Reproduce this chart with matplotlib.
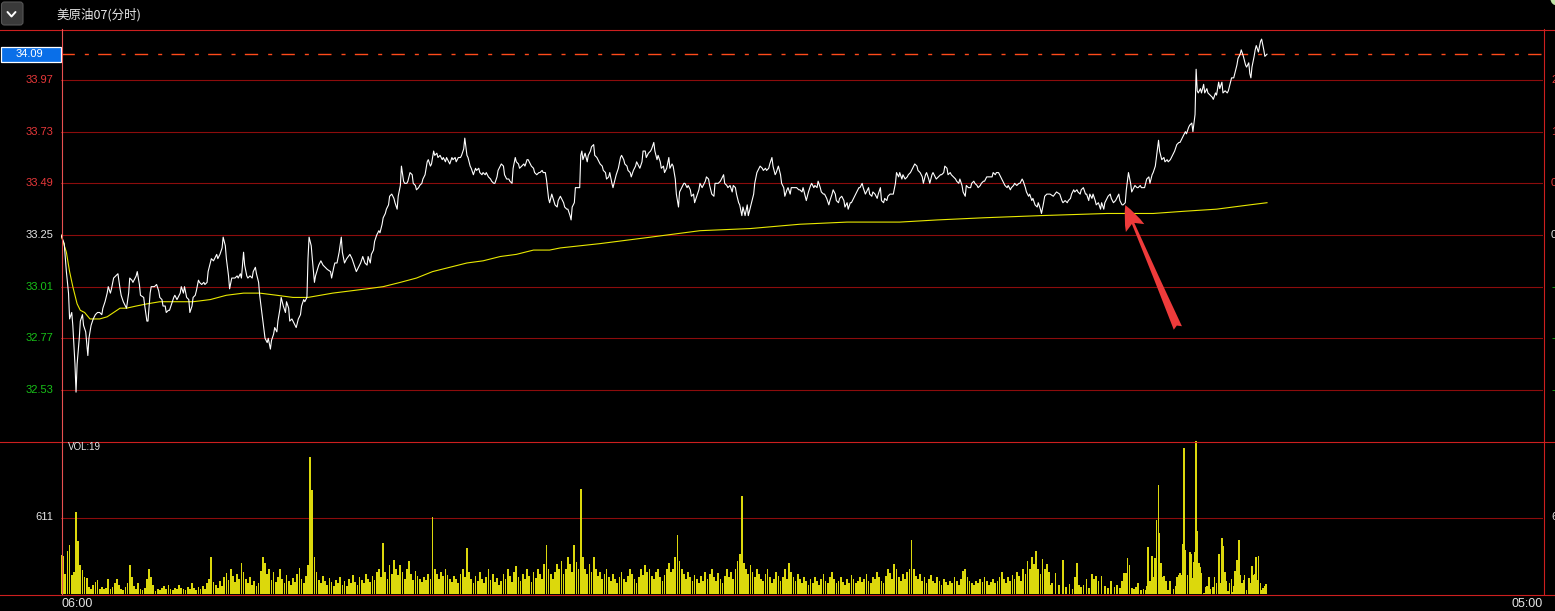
import matplotlib
matplotlib.use("Agg")
import matplotlib.pyplot as plt
from matplotlib.patches import FancyBboxPatch, Rectangle, Circle
from matplotlib.transforms import blended_transform_factory, offset_copy

plt.rcParams['font.family'] = ['Noto Sans CJK SC', 'DejaVu Sans']
plt.rcParams['lines.scale_dashes'] = False

# ---- données (minutes depuis 06:00) ----
title = "美原油07(分时)"
prev_close = 33.25
last_price = 34.09
grid_prices = [33.97, 33.73, 33.49, 33.25, 33.01, 32.77, 32.53]
grid_labels = ["33.97", "33.73", "33.49", "33.25", "33.01", "32.77", "32.53"]
pct_labels = ["2.17%", "1.44%", "0.72%", "0.00%", "-0.72%", "-1.44%", "-2.17%"]
vol_ref = 611
vol_title = "VOL:19"
time_labels = ["06:00", "05:00"]
total_minutes = 1380

price_t = [
    0, 3, 5, 7, 8, 10, 11, 13, 14, 15,
    17, 18, 20, 21, 23, 25, 26, 28, 30, 32,
    34, 36, 38, 39, 41, 43, 44, 46, 47, 49,
    51, 53, 55, 56, 58, 60, 61, 63, 64, 66,
    67, 70, 71, 73, 74, 77, 78, 80, 81, 83,
    84, 87, 89, 91, 92, 94, 95, 97, 98, 100,
    101, 103, 105, 106, 108, 109, 111, 112, 114, 115,
    117, 119, 120, 122, 123, 125, 126, 128, 129, 131,
    133, 134, 136, 137, 139, 140, 142, 143, 145, 146,
    148, 150, 151, 153, 154, 156, 157, 159, 160, 162,
    164, 165, 167, 168, 170, 171, 173, 174, 176, 178,
    179, 181, 182, 184, 185, 187, 188, 190, 192, 193,
    195, 196, 198, 199, 201, 202, 204, 205, 207, 209,
    210, 212, 213, 215, 216, 218, 219, 221, 223, 224,
    226, 227, 229,
    230, 231, 233, 234, 236, 237, 240, 242, 244, 246,
    248, 251, 252, 254, 255, 257, 259, 261, 262, 264,
    266, 269, 271, 273, 275, 277, 279, 281, 283, 285,
    286, 288, 289, 291, 292, 294, 296, 297, 299, 300,
    302, 303, 305, 306, 308, 310, 311, 313, 314, 316,
    317, 319, 320, 322, 323, 325, 327, 328, 330, 331,
    333, 334, 336, 337, 339, 341, 342, 344, 345, 347,
    348, 350, 351, 353, 355, 356, 358, 359, 361, 362,
    364, 365, 367, 368, 370, 372, 373, 375, 376, 378,
    379, 381, 382, 384, 386, 387, 389, 390, 392, 393,
    395, 396, 398, 400, 401, 403, 404, 406, 407, 409,
    410, 412, 413, 415, 417, 418, 420, 421, 423, 424,
    426, 427, 429, 431, 432, 434, 435, 437, 438, 440,
    441, 443, 445, 446, 448, 449, 451, 452, 454, 455,
    457, 460, 462, 463, 465, 466, 468, 469, 471, 472,
    474, 475, 476, 478, 479, 481, 483, 484, 485, 486,
    488, 490, 491, 493, 494, 496, 497, 499, 500, 502,
    504, 505, 507, 508, 510, 511, 513, 514, 516, 517,
    519, 521, 522, 524, 525, 527, 528, 530, 531, 533,
    535, 536, 538, 539, 541, 542, 544, 545, 547, 549,
    550, 552, 553, 555, 556, 558, 559, 561, 562, 564,
    566, 567, 569, 570, 572, 573, 575, 576, 578, 580,
    581, 583, 584, 586, 587, 589, 590, 592, 594, 595,
    597, 598, 600, 601, 603, 604, 606, 608, 609, 611,
    612, 614, 615, 617, 618, 620, 621, 623, 625, 626,
    628, 629, 631, 632, 634, 635, 637, 639, 640, 642,
    643, 645, 646, 648, 649, 651, 653, 654, 656, 657,
    659, 660, 662, 663, 665, 666, 668, 670, 671, 673,
    674, 676, 677, 679, 680, 682, 684, 685, 687,
    688, 690, 691, 693, 694, 696, 698, 699, 701, 702,
    704, 705, 707, 708, 710, 711, 713, 715, 716, 718,
    719, 721, 722, 724, 725, 727, 729, 730, 732, 733,
    735, 736, 738, 739, 741, 743, 744, 746, 747, 749,
    750, 752, 753, 755, 756, 758, 760, 761, 763, 764,
    766, 767, 769, 770, 772, 774, 775, 777, 778, 780,
    781, 783, 784, 786, 788, 789, 791, 792, 794, 795,
    797, 798, 800, 802, 803, 805, 806, 808, 809, 811,
    812, 814, 815, 817, 819, 820, 822, 823, 825, 826,
    828, 829, 831, 833, 834, 836, 837, 839, 840, 842,
    843, 845, 847, 848, 850, 851, 853, 854, 856, 857,
    859, 860, 862, 864, 865, 867, 868, 870, 871, 873,
    874, 876, 878, 879, 881, 882, 884, 885, 887, 888,
    890, 892, 893, 895, 896, 898, 899, 901, 902, 904,
    905, 907, 909, 910, 912, 913, 915, 916, 918, 919,
    921, 924, 927, 930, 932, 933, 935, 937, 938, 940,
    941, 943, 944, 946, 947, 949, 950, 952, 954, 955,
    957, 958, 960, 961, 963, 964, 966, 968, 969, 971,
    972, 974, 975, 977, 978, 980, 982, 983, 985, 986,
    988, 989, 991, 992, 994, 996, 997, 999, 1000, 1002,
    1003, 1005, 1006, 1008, 1009, 1011, 1013, 1014, 1016, 1017,
    1019, 1020, 1022, 1023, 1025, 1027, 1028, 1030, 1031, 1033,
    1034, 1036, 1037, 1039, 1041, 1042, 1044, 1045, 1047, 1048,
    1050, 1051, 1053, 1054, 1056, 1057, 1058, 1059, 1061, 1062,
    1064, 1065, 1067, 1068, 1070, 1072, 1073, 1075, 1076, 1078,
    1079, 1081, 1082, 1084, 1086, 1087, 1089, 1090, 1092, 1093,
    1095, 1096, 1098, 1099, 1101, 1103, 1104, 1106, 1107, 1108,
    1109, 1111, 1112, 1113, 1115, 1117, 1118, 1120, 1121, 1123,
]
price_v = [
    33.25, 33.21, 33.08, 32.98, 32.86, 32.89, 32.83, 32.65, 32.52, 32.65,
    32.77, 32.85, 32.88, 32.83, 32.80, 32.69, 32.77, 32.83, 32.86, 32.88,
    32.89, 32.89, 32.88, 32.91, 32.94, 32.98, 33.01, 32.98, 33.00, 33.05,
    33.06, 33.07, 33.00, 32.97, 32.94, 32.92, 32.91, 32.98, 33.05, 33.04,
    33.03, 33.06, 33.08, 33.02, 32.97, 32.96, 32.92, 32.85, 32.85, 32.98,
    33.01, 33.01, 33.02, 32.99, 32.96, 32.95, 32.92, 32.92, 32.89, 32.90,
    32.90, 32.93, 32.96, 32.97, 32.95, 32.96, 32.98, 33.01, 32.98, 33.01,
    32.96, 32.95, 32.89, 32.92, 32.96, 32.97, 32.99, 33.04, 33.03, 33.02,
    33.03, 33.02, 33.03, 33.08, 33.12, 33.14, 33.13, 33.14, 33.16, 33.14,
    33.16, 33.19, 33.24, 33.20, 33.14, 33.06, 33.00, 33.05, 33.05, 33.05,
    33.06, 33.05, 33.07, 33.05, 33.17, 33.11, 33.06, 33.05, 33.06, 33.05,
    33.08, 33.10, 33.07, 33.03, 32.97, 32.89, 32.85, 32.77, 32.75, 32.77,
    32.72, 32.76, 32.79, 32.82, 32.80, 32.85, 32.91, 32.96, 32.92, 32.89,
    32.94, 32.91, 32.85, 32.86, 32.85, 32.83, 32.82, 32.86, 32.88, 32.92,
    32.95, 32.94, 32.96,
    33.14, 33.24, 33.20, 33.14, 33.03, 33.06, 33.11, 33.13, 33.11, 33.10,
    33.09, 33.08, 33.05, 33.10, 33.12, 33.12, 33.17, 33.24, 33.17, 33.12,
    33.14, 33.16, 33.14, 33.11, 33.08, 33.10, 33.12, 33.15, 33.12, 33.11,
    33.15, 33.12, 33.16, 33.18, 33.22, 33.25, 33.27, 33.26, 33.30, 33.33,
    33.35, 33.37, 33.39, 33.43, 33.44, 33.42, 33.40, 33.37, 33.43, 33.48,
    33.57, 33.50, 33.49, 33.49, 33.50, 33.54, 33.53, 33.49, 33.48, 33.46,
    33.47, 33.48, 33.49, 33.51, 33.53, 33.59, 33.60, 33.57, 33.58, 33.64,
    33.62, 33.63, 33.61, 33.62, 33.60, 33.61, 33.59, 33.61, 33.59, 33.58,
    33.61, 33.60, 33.61, 33.59, 33.61, 33.61, 33.62, 33.65, 33.70, 33.62,
    33.61, 33.57, 33.56, 33.53, 33.56, 33.55, 33.56, 33.54, 33.53, 33.54,
    33.53, 33.54, 33.52, 33.51, 33.50, 33.49, 33.49, 33.52, 33.55, 33.57,
    33.58, 33.57, 33.53, 33.51, 33.51, 33.50, 33.49, 33.56, 33.61, 33.59,
    33.58, 33.56, 33.57, 33.58, 33.57, 33.60, 33.60, 33.58, 33.57, 33.56,
    33.54, 33.53, 33.54, 33.54, 33.55, 33.54, 33.54, 33.51, 33.42, 33.40,
    33.44, 33.39, 33.38, 33.41, 33.43, 33.42, 33.40, 33.38, 33.37, 33.37,
    33.34, 33.32, 33.38, 33.40, 33.47, 33.47, 33.47, 33.62, 33.64, 33.60,
    33.63, 33.59, 33.62, 33.64, 33.66, 33.67, 33.62, 33.61, 33.60, 33.58,
    33.57, 33.55, 33.54, 33.51, 33.52, 33.54, 33.49, 33.47, 33.51, 33.53,
    33.56, 33.61, 33.62, 33.60, 33.58, 33.57, 33.55, 33.54, 33.52, 33.55,
    33.57, 33.59, 33.57, 33.56, 33.59, 33.64, 33.64, 33.61, 33.63, 33.64,
    33.65, 33.68, 33.64, 33.60, 33.62, 33.59, 33.56, 33.57, 33.54, 33.56,
    33.61, 33.56, 33.58, 33.57, 33.51, 33.44, 33.38, 33.45, 33.47, 33.49,
    33.49, 33.47, 33.48, 33.46, 33.43, 33.44, 33.40, 33.43, 33.46, 33.49,
    33.47, 33.48, 33.50, 33.52, 33.51, 33.48, 33.44, 33.43, 33.49, 33.49,
    33.49, 33.50, 33.51, 33.53, 33.49, 33.48, 33.47, 33.48, 33.45, 33.48,
    33.47, 33.44, 33.40, 33.39, 33.34, 33.38, 33.34, 33.39, 33.34, 33.38,
    33.40, 33.44, 33.49, 33.54, 33.55, 33.57, 33.56, 33.55, 33.56, 33.55,
    33.56, 33.58, 33.61, 33.57, 33.53, 33.54, 33.57, 33.53, 33.49, 33.47,
    33.43, 33.46, 33.47, 33.44, 33.47, 33.47, 33.47, 33.47, 33.46,
    33.46, 33.45, 33.47, 33.43, 33.41, 33.45, 33.48, 33.49, 33.47, 33.48,
    33.47, 33.50, 33.47, 33.45, 33.44, 33.44, 33.42, 33.39, 33.41, 33.44,
    33.46, 33.44, 33.41, 33.40, 33.42, 33.43, 33.41, 33.38, 33.40, 33.37,
    33.40, 33.40, 33.42, 33.43, 33.45, 33.47, 33.47, 33.49, 33.47, 33.44,
    33.45, 33.47, 33.44, 33.43, 33.45, 33.44, 33.42, 33.44, 33.47, 33.41,
    33.40, 33.42, 33.41, 33.43, 33.44, 33.44, 33.44, 33.49, 33.54, 33.52,
    33.54, 33.51, 33.53, 33.51, 33.52, 33.53, 33.54, 33.55, 33.57, 33.58,
    33.57, 33.55, 33.54, 33.52, 33.49, 33.53, 33.54, 33.51, 33.49, 33.53,
    33.54, 33.52, 33.51, 33.52, 33.53, 33.53, 33.54, 33.57, 33.56, 33.53,
    33.54, 33.53, 33.52, 33.51, 33.50, 33.49, 33.51, 33.48, 33.45, 33.43,
    33.48, 33.47, 33.47, 33.49, 33.50, 33.49, 33.48, 33.47, 33.48, 33.49,
    33.50, 33.50, 33.52, 33.52, 33.52, 33.52, 33.54, 33.53, 33.54, 33.54,
    33.53, 33.51, 33.49, 33.48, 33.47, 33.48, 33.46, 33.47, 33.48, 33.49,
    33.48, 33.49, 33.49, 33.51, 33.50, 33.47, 33.45, 33.43, 33.44, 33.41,
    33.42, 33.39, 33.38, 33.40, 33.37, 33.35, 33.40, 33.43, 33.44, 33.44,
    33.44, 33.43, 33.45, 33.44, 33.41, 33.40, 33.41, 33.40, 33.41, 33.42,
    33.44, 33.46, 33.45, 33.46, 33.45, 33.44, 33.46, 33.47, 33.44, 33.44,
    33.41, 33.44, 33.42, 33.44, 33.41, 33.39, 33.40, 33.37, 33.40, 33.37,
    33.40, 33.42, 33.43, 33.44, 33.42, 33.40, 33.41, 33.42, 33.44, 33.41,
    33.39, 33.39, 33.40, 33.46, 33.54, 33.49, 33.45, 33.47, 33.48, 33.47,
    33.47, 33.48, 33.47, 33.47, 33.47, 33.51, 33.52, 33.49, 33.53, 33.54,
    33.57, 33.61, 33.69, 33.64, 33.60, 33.61, 33.59, 33.60, 33.59, 33.60,
    33.61, 33.63, 33.64, 33.67, 33.68, 33.68, 33.70, 33.71, 33.73, 33.72,
    33.75, 33.76, 33.77, 33.73, 33.81, 34.02, 33.92, 33.91, 33.93, 33.91,
    33.95, 33.91, 33.93, 33.91, 33.90, 33.89, 33.88, 33.91, 33.90, 33.96,
    33.93, 33.96, 33.91, 33.92, 33.91, 33.92, 33.96, 33.98, 33.98, 34.00,
    34.04, 34.07, 34.09, 34.11, 34.08, 34.04, 34.03, 34.05, 34.00, 33.98,
    34.03, 34.08, 34.11, 34.13, 34.10, 34.15, 34.16, 34.11, 34.08, 34.09,
]

avg_t = [0, 5, 8, 11, 15, 18, 22, 27, 30, 36, 43, 49, 55, 61, 70, 80, 92, 108,
         123, 139, 154, 170, 185, 201, 216, 230, 253, 285, 300, 316, 331, 346,
         362, 378, 393, 409, 424, 440, 455, 465, 502, 549, 595, 642, 688, 732,
         781, 816, 859, 912, 974, 1017, 1045, 1076, 1107, 1123]
avg_v = [33.25, 33.17, 33.08, 33.01, 32.93, 32.90, 32.89, 32.86, 32.86, 32.86,
         32.87, 32.89, 32.91, 32.91, 32.92, 32.93, 32.94, 32.94, 32.94, 32.95,
         32.97, 32.98, 32.98, 32.97, 32.96, 32.96, 32.98, 33.00, 33.01, 33.03,
         33.05, 33.08, 33.10, 33.12, 33.13, 33.15, 33.16, 33.18, 33.18, 33.19,
         33.21, 33.24, 33.27, 33.28, 33.30, 33.31, 33.31, 33.32, 33.33, 33.34,
         33.35, 33.35, 33.36, 33.37, 33.39, 33.40]

# volume : une barre toutes les 2 minutes jusqu'a 920, puis relevé fin
vol_t = list(range(0, 921, 2)) + [
    921, 923, 926, 929, 933, 936, 939, 942, 944, 946,
    948, 950, 952, 955, 957, 960, 962, 964, 966, 969,
    972, 975, 978, 981, 983, 986, 988, 990, 992, 993,
    995, 997, 999, 1001, 1003, 1006, 1008, 1010, 1011, 1012,
    1014, 1016, 1017, 1019, 1020, 1022, 1023, 1024, 1026, 1027,
    1029, 1031, 1033, 1036, 1038, 1039, 1041, 1042, 1044, 1045,
    1046, 1047, 1049, 1051, 1052, 1053, 1055, 1056, 1057, 1058,
    1060, 1061, 1062, 1064, 1066, 1067, 1069, 1070, 1073, 1074,
    1076, 1078, 1080, 1081, 1082, 1084, 1085, 1087, 1088, 1090,
    1091, 1092, 1093, 1095, 1096, 1097, 1098, 1100, 1101, 1102,
    1104, 1106, 1107, 1108, 1109, 1111, 1112, 1113, 1114, 1115,
    1117, 1118, 1119, 1121, 1122]
vol_v = [
    312, 300, 160, 344, 392, 152, 176, 656, 424, 232,
    192, 136, 128, 56, 40, 72, 96, 112, 40, 56,
    40, 48, 120, 40, 56, 88, 120, 72, 40, 32,
    56, 88, 232, 136, 64, 40, 88, 40, 32, 48,
    120, 200, 136, 72, 24, 40, 32, 48, 64, 40,
    72, 40, 32, 48, 40, 72, 48, 40, 32, 56,
    40, 88, 48, 32, 56, 40, 64, 40, 88, 120,
    296, 96, 72, 48, 104, 64, 136, 168, 112, 200,
    144, 96, 160, 120, 248, 176, 120, 88, 136, 72,
    104, 64, 88, 184, 296, 248, 160, 200, 112, 176,
    96, 136, 200, 120, 88, 152, 104, 72, 128, 96,
    160, 208, 120, 88, 144, 232, 1096, 832, 296, 176,
    112, 88, 144, 104, 72, 128, 96, 64, 112, 88,
    136, 72, 104, 64, 120, 88, 152, 96, 72, 136,
    112, 88, 160, 120, 96, 144, 112, 176, 200, 136,
    408, 176, 120, 232, 160, 272, 200, 152, 232, 176,
    120, 200, 264, 160, 112, 184, 144, 120, 96, 136,
    112, 160, 120, 616, 200, 160, 120, 176, 144, 200,
    152, 120, 96, 144, 120, 88, 160, 200, 136, 368,
    176, 120, 88, 144, 104, 176, 120, 88, 136, 200,
    112, 160, 96, 128, 72, 104, 160, 120, 200, 144,
    96, 176, 224, 136, 104, 160, 120, 200, 144, 96,
    176, 128, 200, 160, 120, 240, 392, 200, 160, 120,
    176, 240, 200, 264, 160, 200, 296, 240, 176, 392,
    256, 200, 840, 296, 200, 160, 240, 176, 296, 200,
    144, 176, 120, 160, 200, 136, 104, 160, 120, 88,
    136, 176, 120, 96, 144, 200, 160, 120, 88, 136,
    200, 152, 232, 176, 200, 144, 120, 176, 200, 136,
    104, 152, 200, 248, 176, 200, 296, 472, 264, 200,
    160, 120, 176, 136, 104, 152, 120, 88, 144, 104,
    176, 120, 160, 200, 136, 104, 168, 120, 88, 144,
    200, 136, 176, 120, 200, 264, 320, 784, 248, 200,
    160, 232, 176, 136, 200, 160, 120, 104, 160, 200,
    136, 88, 120, 176, 144, 104, 136, 200, 120, 248,
    176, 136, 104, 160, 120, 88, 136, 104, 72, 120,
    88, 136, 104, 72, 120, 160, 104, 88, 136, 176,
    120, 88, 104, 136, 96, 72, 120, 88, 152, 120,
    88, 104, 136, 96, 120, 160, 104, 88, 136, 120,
    176, 136, 104, 88, 144, 200, 168, 120, 240, 200,
    136, 104, 160, 120, 176, 200, 432, 200, 144, 120,
    160, 104, 136, 88, 120, 152, 104, 88, 136, 104,
    72, 120, 96, 72, 104, 88, 136, 104, 72, 120,
    184, 200, 136, 104, 88, 72, 104, 88, 120, 96,
    136, 104, 72, 96, 120, 88, 104, 136, 176, 120,
    88, 136, 104, 152, 120, 176, 144, 104, 200, 160,
    264, 200, 296, 240, 344, 200, 160, 280, 200, 240,
    176,
    72, 88, 168, 72, 272, 56, 80, 40, 136, 248,
    72, 56, 72, 120, 48, 160, 120, 144, 104, 144,
    64, 48, 104, 56, 72, 48, 104, 168, 168, 288,
    232, 48, 40, 56, 88, 32, 40, 32, 64, 376,
    104, 304, 136, 288, 592, 872, 488, 248, 136, 144,
    104, 32, 104, 40, 64, 136, 152, 168, 152, 400,
    1168, 352, 152, 336, 320, 128, 256, 336, 1222, 504,
    248, 216, 168, 8, 56, 64, 136, 40, 56, 136,
    88, 320, 88, 448, 384, 176, 104, 24, 88, 120,
    16, 64, 184, 272, 48, 432, 152, 88, 112, 152,
    32, 128, 56, 88, 224, 152, 160, 296, 112, 304,
    88, 32, 48, 64, 80]

# ---- couleurs ----
rouge = '#e8383a'
vert = '#18c018'
blanc = '#e6e6e6'
grille = '#8c0c0c'
bord = '#cc1f1f'
label_colors = [rouge, rouge, rouge, blanc, vert, vert, vert]
num_font = ['Liberation Sans', 'DejaVu Sans']

W, H = 1555, 611
L, R, T, M, B = 61, 1543, 29, 441, 594
fig = plt.figure(figsize=(W / 100, H / 100), dpi=100, facecolor='black')

ax = fig.add_axes([L / W, 1 - M / H, (R - L) / W, (M - T) / H])
axv = fig.add_axes([L / W, 1 - B / H, (R - L) / W, (B - M) / H])
for a in (ax, axv):
    a.set_xlim(0, total_minutes)
    a.set_axis_off()
half = 0.957
ax.set_ylim(prev_close - half, prev_close + half)
axv.set_ylim(0, 2 * vol_ref)

# grille prix
for p in grid_prices:
    ax.axhline(p, color=grille, lw=0.8, zorder=1)
ax.axhline(last_price, color='#ff4a1a', lw=1.0, dashes=(9.6, 7.2, 2.9, 6.7), zorder=2)

ax.plot(avg_t, avg_v, color='#e8e800', lw=0.8, zorder=3)
ax.plot(price_t, price_v, color='white', lw=0.8, zorder=4)

# fleche rouge
ax.annotate('', xy=(991, 33.389), xytext=(1040, 32.818),
            arrowprops=dict(arrowstyle='fancy,head_length=0.45,head_width=0.36,tail_width=0.16',
                            fc='#ee3b3b', ec='none', mutation_scale=40,
                            shrinkA=0, shrinkB=0), zorder=6)

# labels axe gauche / droite
trans_l = offset_copy(blended_transform_factory(ax.transAxes, ax.transData), fig=fig, x=-8, y=0, units='dots')
trans_r = offset_copy(blended_transform_factory(ax.transAxes, ax.transData), fig=fig, x=8, y=0, units='dots')
for p, s, pc, c in zip(grid_prices, grid_labels, pct_labels, label_colors):
    ax.text(0, p, s, transform=trans_l, ha='right', va='center', color=c, fontsize=8, family=num_font)
    ax.text(1, p, pc, transform=trans_r, ha='left', va='center', color=c, fontsize=8, family=num_font, clip_on=False)

# volume
axv.bar(vol_t, vol_v, width=1.6, color='#dcd80c', linewidth=0, zorder=3)
axv.axhline(vol_ref, color=grille, lw=0.8, zorder=1)
tv_l = offset_copy(blended_transform_factory(axv.transAxes, axv.transData), fig=fig, x=-8, y=0, units='dots')
tv_r = offset_copy(blended_transform_factory(axv.transAxes, axv.transData), fig=fig, x=8, y=0, units='dots')
axv.text(0, vol_ref, str(vol_ref), transform=tv_l, ha='right', va='center', color=blanc, fontsize=8, family=num_font)
axv.text(1, vol_ref, str(vol_ref), transform=tv_r, ha='left', va='center', color=blanc, fontsize=8, family=num_font)

# calque en pixels pour le cadre
axo = fig.add_axes([0, 0, 1, 1], zorder=5)
axo.set_xlim(0, W)
axo.set_ylim(H, 0)
axo.set_axis_off()
axo.patch.set_alpha(0)

for yy in (T, M, B):
    axo.plot([0, W], [yy + 0.5, yy + 0.5], color=bord, lw=0.8)
axo.plot([R + 0.5, R + 0.5], [T, B], color=bord, lw=0.8)
axo.plot([L + 0.5, L + 0.5], [T, B], color='#e85050', lw=0.8)

# bouton
axo.add_patch(FancyBboxPatch((1.5, 2), 21.5, 23, boxstyle='round,pad=0,rounding_size=3',
                             fc='#3a3a3a', ec='#555555', lw=0.8))
axo.plot([7.5, 11.5, 15.5], [12, 16.5, 12], color='white', lw=1.4, solid_capstyle='round')
axo.text(56, 15, title, color=blanc, fontsize=9, ha='left', va='center')

# etiquette du dernier prix
y_last = M - (last_price - (prev_close - half)) / (2 * half) * (M - T)
axo.add_patch(Rectangle((0.5, y_last - 7.5), 60, 15, fc='#0a6fe8', ec='white', lw=0.9))
axo.text(29, y_last, f"{last_price:.2f}", color='white', fontsize=8, ha='center', va='center', family=num_font)

axo.text(68, 447, vol_title, color=blanc, fontsize=7, ha='left', va='center', family=num_font)
axo.text(L, 604, time_labels[0], color=blanc, fontsize=9, ha='left', va='center', family=num_font)
axo.text(R, 604, time_labels[1], color=blanc, fontsize=9, ha='right', va='center', family=num_font)
axo.add_patch(Circle((1557, -1), 6.5, fc='#bfe3a5', ec='none'))

fig.savefig('out.png', dpi=100, facecolor='black')
